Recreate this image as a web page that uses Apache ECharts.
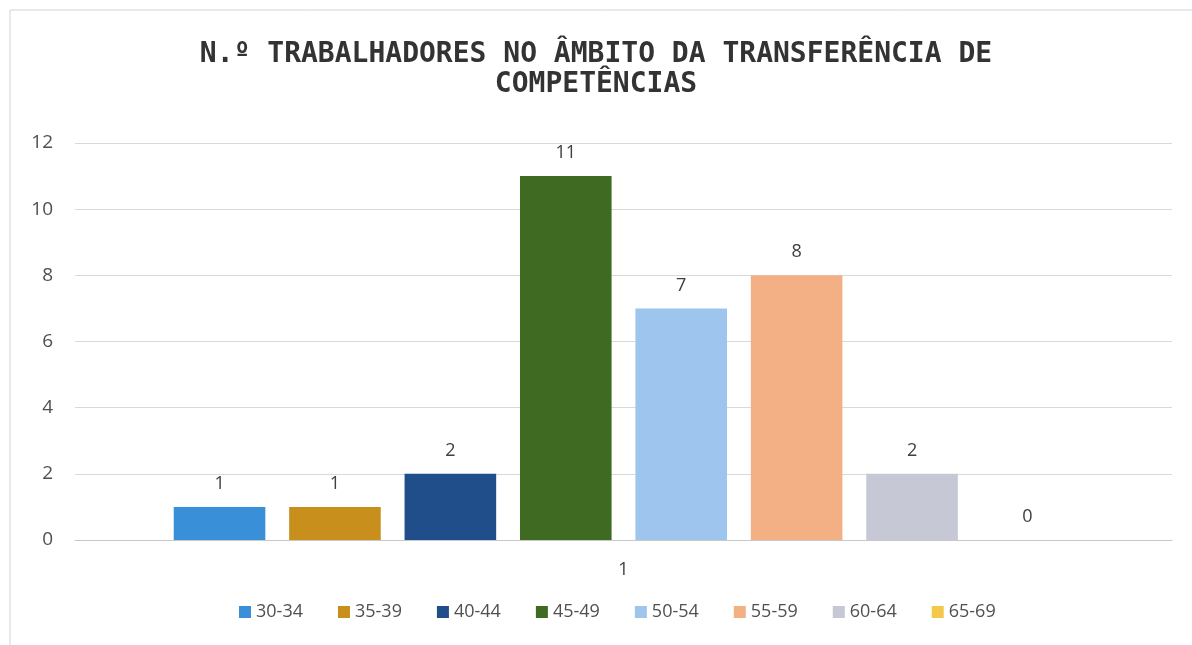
<!DOCTYPE html>
<html>
<head>
<meta charset="utf-8">
<script src="https://cdn.jsdelivr.net/npm/echarts@6/dist/echarts.min.js"></script>
<style>
  html, body { margin: 0; padding: 0; background: #fff; }
  #chart { width: 1192px; height: 645px; }
</style>
</head>
<body>
<div id="chart"></div>
<script>
// dados
const categories = ['1'];
const ageGroups = ['30-34', '35-39', '40-44', '45-49', '50-54', '55-59', '60-64', '65-69'];
const workers = [1, 1, 2, 11, 7, 8, 2, 0];
const colors = ['#3a8fd9', '#c98f1c', '#1f4e8a', '#3f6a22', '#9ec5ee', '#f3b085', '#c6c9d5', '#f4c84a'];
const yTicks = { min: 0, max: 12, interval: 2 };

const chart = echarts.init(document.getElementById('chart'));

const series = ageGroups.map((name, i) => ({
  name: name,
  type: 'bar',
  data: [workers[i]],
  barGap: '26%',
  barCategoryGap: '18%',
  itemStyle: { color: colors[i] },
  label: {
    show: true,
    position: 'top',
    distance: 14,
    color: '#404040',
    fontSize: 18,
    fontFamily: 'Open Sans'
  }
}));

chart.setOption({
  animation: false,
  backgroundColor: '#fff',
  title: {
    text: 'N.º TRABALHADORES NO ÂMBITO DA TRANSFERÊNCIA DE\nCOMPETÊNCIAS',
    left: 'center',
    top: 35,
    textStyle: {
      fontFamily: 'DejaVu Sans Mono',
      fontWeight: 'bold',
      fontSize: 28,
      lineHeight: 30,
      color: '#333333'
    }
  },
  graphic: [{
    type: 'rect',
    shape: { x: 10, y: 10, width: 1200, height: 640 },
    style: { fill: 'none', stroke: '#d0d3dc', lineWidth: 1 }
  }],
  legend: {
    bottom: 19,
    left: 234,
    itemWidth: 12,
    itemHeight: 12,
    itemGap: 35,
    icon: 'rect',
    textStyle: { color: '#505050', fontSize: 18, fontFamily: 'Open Sans' },
    data: ageGroups
  },
  grid: { left: 75, right: 20, top: 143, bottom: 105 },
  xAxis: {
    type: 'category',
    data: categories,
    axisLine: { lineStyle: { color: '#c8c8c8' } },
    axisTick: { show: false },
    axisLabel: { color: '#404040', fontSize: 18, fontFamily: 'Open Sans', margin: 21 }
  },
  yAxis: {
    type: 'value',
    min: yTicks.min,
    max: yTicks.max,
    interval: yTicks.interval,
    axisLine: { show: false },
    axisTick: { show: false },
    axisLabel: { color: '#505050', fontSize: 19, fontFamily: 'Open Sans', margin: 22 },
    splitLine: { lineStyle: { color: '#d9d9d9' } }
  },
  series: series
});

window.addEventListener('resize', () => chart.resize());
</script>
</body>
</html>
